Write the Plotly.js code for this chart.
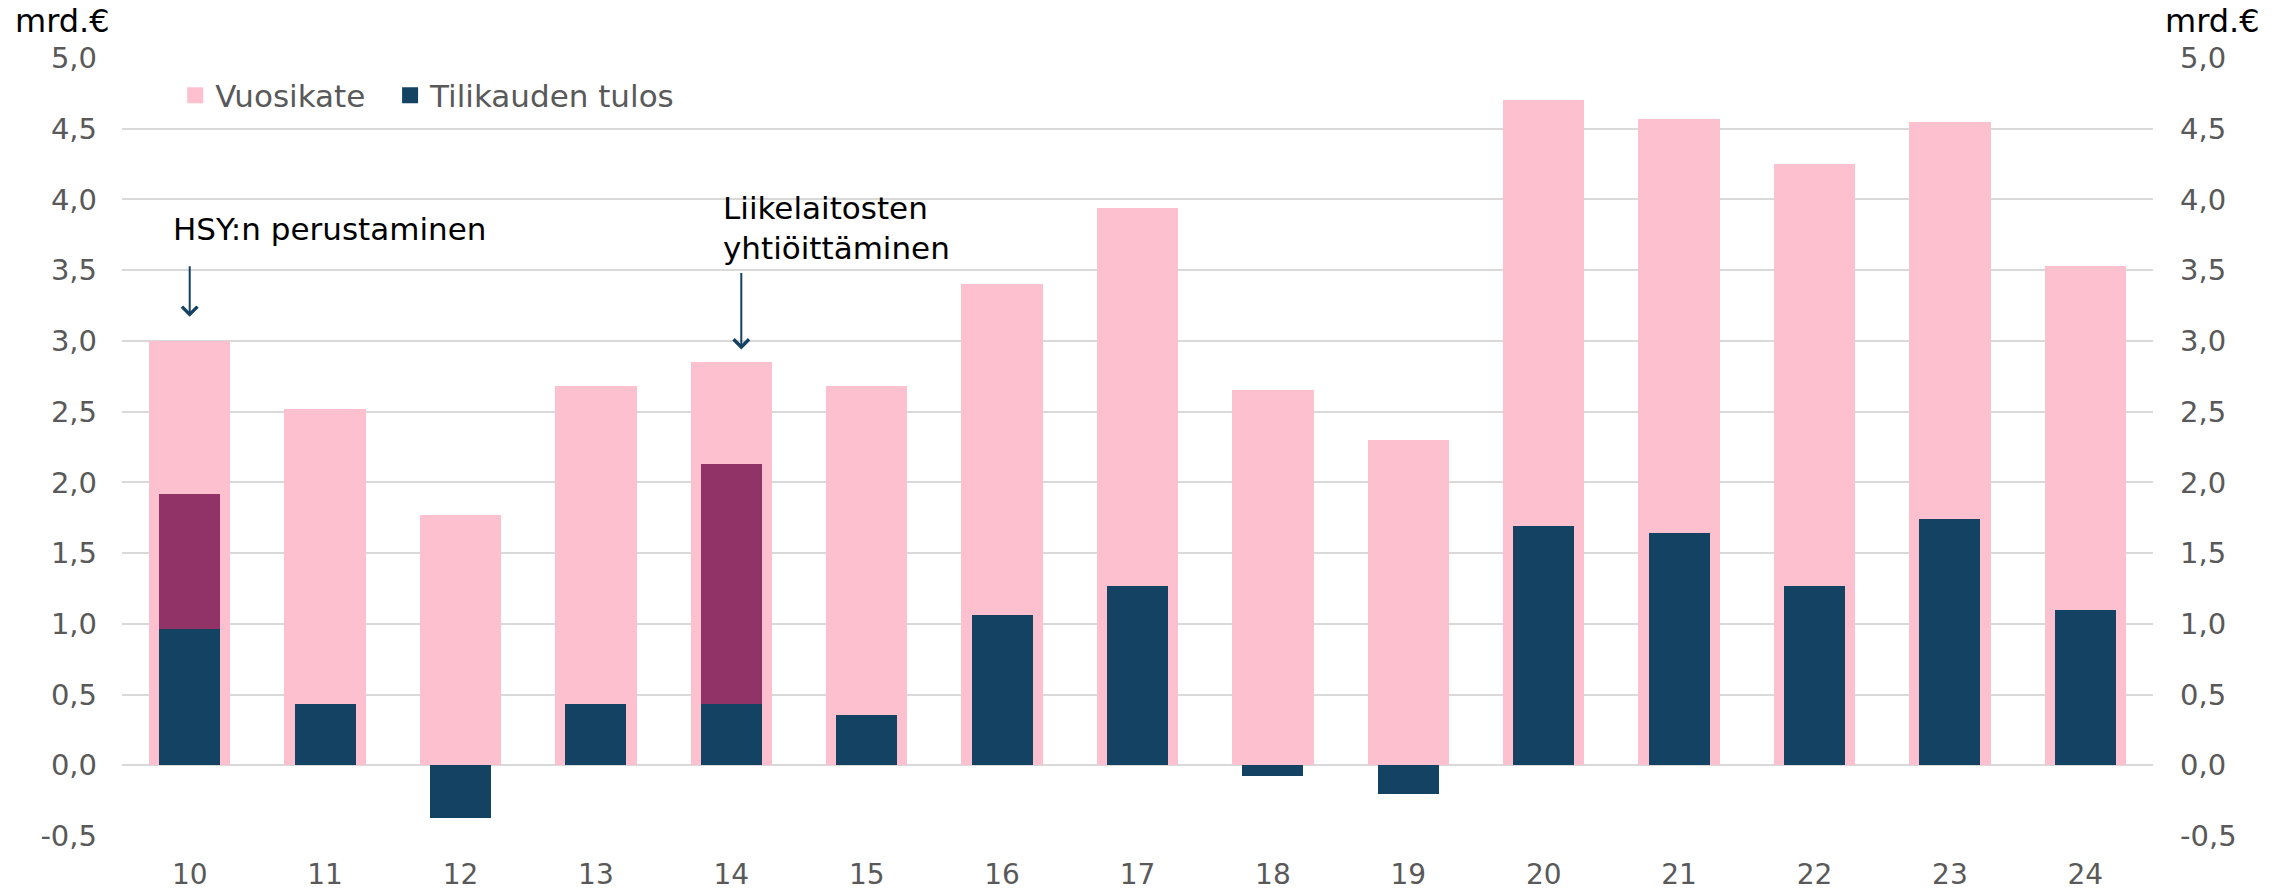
<!DOCTYPE html>
<html>
<head>
<meta charset="utf-8">
<script src="https://cdn.plot.ly/plotly-3.0.1.min.js"></script>
<style>html,body{margin:0;padding:0;background:#fff;}#chart{width:2277px;height:891px;}</style>
</head>
<body>
<div id="chart"></div>
<script>
// Years (20xx)
const years = ['10','11','12','13','14','15','16','17','18','19','20','21','22','23','24'];
// Vuosikate, mrd. €
const vuosikate = [3.00, 2.52, 1.77, 2.68, 2.85, 2.68, 3.40, 3.94, 2.65, 2.30, 4.70, 4.57, 4.25, 4.55, 3.53];
// Tilikauden tulos, mrd. €
const tulos = [0.965, 0.43, -0.37, 0.43, 0.43, 0.355, 1.065, 1.27, -0.078, -0.20, 1.69, 1.645, 1.27, 1.74, 1.095];
// One-off part of result on top of tulos (HSY 2010, company incorporations 2014)
const kertaera = [0.955, null, null, null, 1.70, null, null, null, null, null, null, null, null, null, null];
const yTicks = [-0.5, 0, 0.5, 1, 1.5, 2, 2.5, 3, 3.5, 4, 4.5, 5];
const yTickText = ['-0,5','0,0','0,5','1,0','1,5','2,0','2,5','3,0','3,5','4,0','4,5','5,0'];

const PINK = '#fdc0cf', NAVY = '#134263', PURPLE = '#913366';
const FONT = 'DejaVu Sans, Open Sans, sans-serif';
const GREY = '#595959';

const traces = [
  {type:'bar', x: years, y: vuosikate, name:'Vuosikate', marker:{color:PINK}, width:0.6, showlegend:false, hoverinfo:'x+y'},
  {type:'bar', x: years, y: tulos, name:'Tilikauden tulos', marker:{color:NAVY}, width:0.45, showlegend:false, hoverinfo:'x+y'},
  {type:'bar', x: years, y: kertaera, base: tulos, name:'Kertaerä', marker:{color:PURPLE}, width:0.45, showlegend:false, hoverinfo:'x+y'},
  {type:'scatter', x: years, y: vuosikate, yaxis:'y2', mode:'none', showlegend:false, hoverinfo:'skip'},
  // legend keys
  {type:'scatter', x:[null], y:[null], mode:'markers', name:'Vuosikate', legend:'legend',
   marker:{symbol:'square', size:17, color:PINK}},
  {type:'scatter', x:[null], y:[null], mode:'markers', name:'Tilikauden tulos', legend:'legend2',
   marker:{symbol:'square', size:17, color:NAVY}}
];

const axisY = {
  range:[-0.5, 5.0], tickvals: yTicks, ticktext: yTickText,
  tickfont:{family:FONT, size:29, color:GREY}, fixedrange:true
};

const legendBase = {orientation:'h', xanchor:'left', y:0.9518, yanchor:'middle', itemwidth:30,
  font:{family:FONT, size:31, color:GREY}, bgcolor:'rgba(0,0,0,0)'};

const layout = {
  width:2277, height:891,
  margin:{l:122, r:124, t:58, b:55},
  paper_bgcolor:'#ffffff', plot_bgcolor:'#ffffff',
  barmode:'overlay', bargap:0,
  showlegend:true,
  legend:Object.assign({}, legendBase, {x:0.0262}),
  legend2:Object.assign({}, legendBase, {x:0.132}),
  xaxis:{type:'category', range:[-0.5, 14.5], tickfont:{family:FONT, size:28, color:GREY}, showgrid:false,
         zeroline:false, showline:false, ticks:'', ticklabelstandoff:19, fixedrange:true},
  yaxis:Object.assign({}, axisY, {showgrid:true, gridcolor:'#d9d9d9', gridwidth:2,
         zeroline:true, zerolinecolor:'#d9d9d9', zerolinewidth:2, showline:false, ticks:'', ticklabelstandoff:24}),
  yaxis2:Object.assign({}, axisY, {overlaying:'y', side:'right', anchor:'x', showgrid:false,
         zeroline:false, showline:false, ticks:'', ticklabelstandoff:26}),
  annotations:[
    {xref:'paper', yref:'paper', x:-0.0535, y:1.0476, xanchor:'left', yanchor:'middle', showarrow:false,
     text:'mrd.€', font:{family:FONT, size:32, color:'#000'}},
    {xref:'paper', yref:'paper', x:1.0049, y:1.0476, xanchor:'left', yanchor:'middle', showarrow:false,
     text:'mrd.€', font:{family:FONT, size:32, color:'#000'}},
    {x:0, y:3.79, xref:'x', yref:'y', xanchor:'left', yanchor:'middle', xshift:-19, showarrow:false,
     text:'HSY:n perustaminen', font:{family:FONT, size:31, color:'#000'}},
    {x:4, y:3.80, xref:'x', yref:'y', xanchor:'left', yanchor:'middle', xshift:-10, showarrow:false, align:'left',
     text:'Liikelaitosten<br>yhtiöittäminen', font:{family:FONT, size:31, color:'#000'}},
    {x:0, y:3.17, xref:'x', yref:'y', text:'', showarrow:true, arrowhead:4, arrowsize:1.5, arrowwidth:2,
     arrowcolor:NAVY, ax:0, ay:-52},
    {x:4, y:2.94, xref:'x', yref:'y', xshift:10, text:'', showarrow:true, arrowhead:4, arrowsize:1.5, arrowwidth:2,
     arrowcolor:NAVY, ax:0, ay:-78}
  ]
};

Plotly.newPlot('chart', traces, layout, {staticPlot:true, displayModeBar:false});
</script>
</body>
</html>
